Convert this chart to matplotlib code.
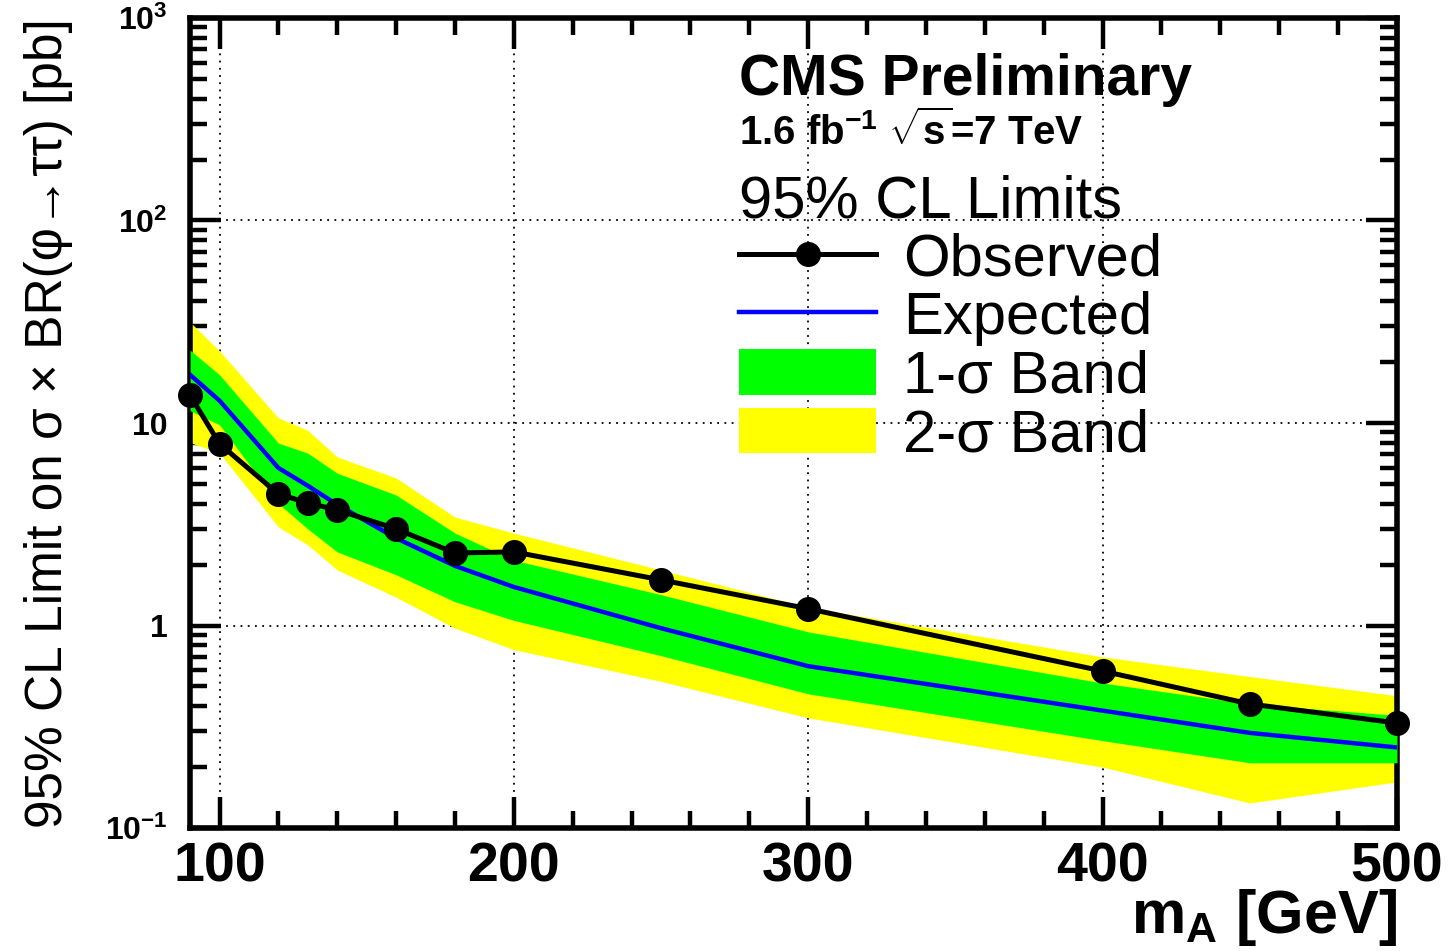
import matplotlib
matplotlib.use("Agg")
import matplotlib.pyplot as plt
from matplotlib.lines import Line2D
from matplotlib.patches import Patch
from matplotlib.ticker import FixedLocator, FixedFormatter, LogLocator, NullFormatter

plt.rcParams['font.family'] = ['Liberation Sans', 'DejaVu Sans']
plt.rcParams['mathtext.fontset'] = 'custom'
plt.rcParams['mathtext.rm'] = 'Liberation Sans:bold'
plt.rcParams['mathtext.bf'] = 'Liberation Sans:bold'
plt.rcParams['mathtext.default'] = 'bf'

# Higgs mass points [GeV]
mass = [90, 100, 120, 130, 140, 160, 180, 200, 250, 300, 400, 450, 500]
# 95% CL limits [pb]
observed = [13.7, 7.9, 4.46, 4.03, 3.72, 3.0, 2.28, 2.31, 1.68, 1.21, 0.596, 0.41, 0.33]
expected = [17.3, 12.9, 6.0, 4.9, 3.95, 2.7, 1.97, 1.55, 0.97, 0.63, 0.38, 0.295, 0.25]
sig1_up = [22.9, 17.3, 7.96, 7.1, 5.65, 4.41, 2.86, 2.1, 1.42, 0.93, 0.52, 0.41, 0.36]
sig1_dn = [11.5, 9.8, 4.0, 3.0, 2.31, 1.78, 1.31, 1.06, 0.71, 0.46, 0.27, 0.21, 0.21]
sig2_up = [31.5, 22.7, 10.6, 9.2, 6.8, 5.35, 3.43, 2.86, 1.88, 1.23, 0.70, 0.56, 0.45]
sig2_dn = [8.0, 7.1, 3.07, 2.5, 1.88, 1.38, 0.97, 0.76, 0.53, 0.35, 0.20, 0.133, 0.169]

ytick_vals = [0.1, 1, 10, 100, 1000]
ytick_text = [r'$10^{-1}$', '1', '10', r'$10^{2}$', r'$10^{3}$']

fig = plt.figure(figsize=(14.52, 9.51), dpi=100)
ax = fig.add_axes([0.1309, 0.1293, 0.8312, 0.8518])

# bands, expected and observed
ax.fill_between(mass, sig2_dn, sig2_up, color='#ffff00', lw=0, zorder=2)
ax.fill_between(mass, sig1_dn, sig1_up, color='#00ff00', lw=0, zorder=3)
ax.plot(mass, expected, color='#0000ff', lw=3.2, zorder=4)
ax.plot(mass, observed, color='black', lw=3.6, marker='o', ms=17,
        zorder=5, clip_on=False)

ax.set_yscale('log')
ax.set_xlim(90, 500)
ax.set_ylim(0.1, 1000)

# ticks
ax.xaxis.set_major_locator(FixedLocator([100, 200, 300, 400, 500]))
ax.xaxis.set_minor_locator(FixedLocator([120, 140, 160, 180, 220, 240, 260, 280,
                                         320, 340, 360, 380, 420, 440, 460, 480]))
ax.yaxis.set_major_locator(FixedLocator(ytick_vals))
ax.yaxis.set_major_formatter(FixedFormatter(ytick_text))
ax.yaxis.set_minor_locator(LogLocator(base=10, subs=range(2, 10)))
ax.yaxis.set_minor_formatter(NullFormatter())
ax.tick_params(which='both', direction='in', top=True, right=True, width=3.2, color='black')
ax.tick_params(which='major', length=22)
ax.tick_params(which='minor', length=12)
ax.tick_params(axis='x', which='major', labelsize=40, pad=10)
ax.tick_params(axis='y', which='major', labelsize=23, pad=16)
for lab in ax.get_xticklabels():
    lab.set_fontweight('bold')
for lab in ax.get_yticklabels():
    lab.set_fontweight('bold')
for sp in ax.spines.values():
    sp.set_linewidth(4)

# grid on major ticks only
ax.grid(True, which='major', linestyle=(0, (1, 3)), color='black', lw=1.3, zorder=1)
ax.grid(False, which='minor')
ax.set_axisbelow(True)

ax.set_xlabel(r'm$_{A}$ [GeV]', fontsize=44, fontweight='bold', ha='right', va='baseline')
ax.xaxis.set_label_coords(1.0, -0.130)
ax.set_ylabel('95% CL Limit on σ × BR(φ→ττ) [pb]', fontsize=37)
ax.yaxis.set_label_coords(-0.097, 0.5)

# header text
fig.text(0.509, 0.916, 'CMS Preliminary', fontsize=41, fontweight='bold', va='center', ha='left')
fig.text(0.509, 0.862, r'1.6 fb$^{-1}$ $\sqrt{s}$=7 TeV', fontsize=29, fontweight='bold',
         va='center', ha='left')

handles = [
    Line2D([], [], color='black', lw=3.6, marker='o', ms=17),
    Line2D([], [], color='#0000ff', lw=3.2),
    Patch(facecolor='#00ff00', edgecolor='none'),
    Patch(facecolor='#ffff00', edgecolor='none'),
]
labels = ['Observed', 'Expected', '1-σ Band', '2-σ Band']
leg = ax.legend(handles, labels, loc='upper left', bbox_to_anchor=(0.509, 0.817),
                bbox_transform=fig.transFigure, frameon=False, fontsize=43,
                title='95% CL Limits', title_fontsize=43, alignment='left',
                handlelength=2.3, handleheight=0.8, handletextpad=0.45,
                labelspacing=0.05, borderpad=0, borderaxespad=0)

fig.savefig('out.png', dpi=100)
